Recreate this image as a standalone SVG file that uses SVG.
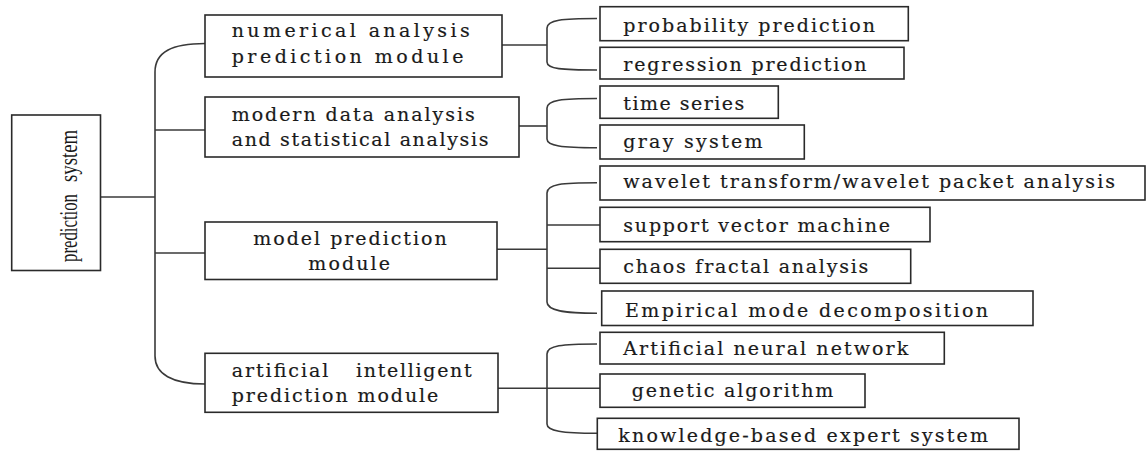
<svg xmlns="http://www.w3.org/2000/svg" width="1146" height="451" viewBox="0 0 1146 451">
<style>
  .box { fill: #ffffff; stroke: #2a2a2a; stroke-width: 1.6; }
  .lbl { font-family: "DejaVu Serif", "Liberation Serif", serif; font-size: 19px; fill: #1a1a1a; stroke: #1a1a1a; stroke-width: 0.2; }
  .root { font-family: "Liberation Serif", "DejaVu Serif", serif; font-size: 26px; fill: #1a1a1a; }
  .conn { fill: none; stroke: #3a3a3a; stroke-width: 1.6; }
</style>
<rect width="1146" height="451" fill="#ffffff"/>

<g id="connectors">
  <path class="conn" d="M100.5,197 H155"/>
  <path class="conn" d="M205,43.5 C172,43.5 155,52 155,72 V356 C155,374 172,384 205,384"/>
  <path class="conn" d="M155,130 H205"/>
  <path class="conn" d="M155,253 H205"/>

  <path class="conn" d="M502,45 H547"/>
  <path class="conn" d="M597,18.5 C562,18.5 547,20 547,28 V62 C547,69 562,70 597,70"/>

  <path class="conn" d="M519,126 H547"/>
  <path class="conn" d="M597,98.5 C562,98.5 547,100 547,108 V139 C547,146 562,147.7 597,147.7"/>

  <path class="conn" d="M497,249.3 H547"/>
  <path class="conn" d="M597,182.7 C562,182.7 547,184 547,193 V302 C547,310 562,313.3 597,313.3"/>
  <path class="conn" d="M547,225 H600"/>
  <path class="conn" d="M547,268.3 H600"/>

  <path class="conn" d="M498,388.3 H600"/>
  <path class="conn" d="M597,344 C562,344 547,345.5 547,354 V424 C547,431 562,433.3 597,433.3"/>
</g>

<g id="node-root">
  <rect class="box" x="11.7" y="115" width="88.8" height="155.5"/>
  <text class="root" transform="translate(77,262) rotate(-90)"><tspan x="0" y="0" textLength="68" lengthAdjust="spacingAndGlyphs">prediction</tspan> <tspan x="80" y="0" textLength="52" lengthAdjust="spacingAndGlyphs">system</tspan></text>
</g>

<g id="node-numerical">
  <rect class="box" x="205" y="15" width="297" height="62"/>
  <text class="lbl" x="231.7" y="37.3" textLength="238" lengthAdjust="spacing">numerical analysis</text>
  <text class="lbl" x="231.7" y="63.3" textLength="231.7" lengthAdjust="spacing">prediction module</text>
</g>

<g id="node-modern">
  <rect class="box" x="205" y="97" width="314" height="60"/>
  <text class="lbl" x="231.7" y="120.7" textLength="243" lengthAdjust="spacing">modern data analysis</text>
  <text class="lbl" x="231.7" y="145.7" textLength="256.7" lengthAdjust="spacing">and statistical analysis</text>
</g>

<g id="node-model">
  <rect class="box" x="205" y="222" width="292" height="57.5"/>
  <text class="lbl" x="253.3" y="245" textLength="193.4" lengthAdjust="spacing">model prediction</text>
  <text class="lbl" x="308.3" y="270" textLength="81.7" lengthAdjust="spacing">module</text>
</g>

<g id="node-artificial">
  <rect class="box" x="205" y="353.3" width="293" height="59"/>
  <text class="lbl" y="376.7"><tspan x="231.7" textLength="96.6" lengthAdjust="spacing">artificial</tspan> <tspan x="356" textLength="115.7" lengthAdjust="spacing">intelligent</tspan></text>
  <text class="lbl" x="231.7" y="401.7" textLength="206.6" lengthAdjust="spacing">prediction module</text>
</g>

<g id="node-probability">
  <rect class="box" x="600" y="6.7" width="308.3" height="34"/>
  <text class="lbl" x="623.3" y="31.7" textLength="251.7" lengthAdjust="spacing">probability prediction</text>
</g>

<g id="node-regression">
  <rect class="box" x="600" y="47.3" width="304" height="31.7"/>
  <text class="lbl" x="623.3" y="71" textLength="243.3" lengthAdjust="spacing">regression prediction</text>
</g>

<g id="node-timeseries">
  <rect class="box" x="600" y="86" width="178.3" height="32.3"/>
  <text class="lbl" x="623.3" y="110" textLength="121" lengthAdjust="spacing">time series</text>
</g>

<g id="node-gray">
  <rect class="box" x="600" y="125" width="204.3" height="34"/>
  <text class="lbl" x="623.3" y="148.3" textLength="139.3" lengthAdjust="spacing">gray system</text>
</g>

<g id="node-wavelet">
  <rect class="box" x="600" y="166" width="545" height="34"/>
  <text class="lbl" x="623.3" y="188.3" textLength="491.7" lengthAdjust="spacing">wavelet transform/wavelet packet analysis</text>
</g>

<g id="node-svm">
  <rect class="box" x="600" y="207.3" width="330" height="34.4"/>
  <text class="lbl" x="623.3" y="231.7" textLength="266.7" lengthAdjust="spacing">support vector machine</text>
</g>

<g id="node-chaos">
  <rect class="box" x="600" y="249.3" width="310.7" height="34"/>
  <text class="lbl" x="623.3" y="273.3" textLength="245" lengthAdjust="spacing">chaos fractal analysis</text>
</g>

<g id="node-emd">
  <rect class="box" x="601.7" y="291" width="431.3" height="34.5"/>
  <text class="lbl" x="625" y="316.7" textLength="363" lengthAdjust="spacing">Empirical mode decomposition</text>
</g>

<g id="node-ann">
  <rect class="box" x="600" y="332.3" width="344.3" height="31.7"/>
  <text class="lbl" x="623.3" y="355" textLength="285" lengthAdjust="spacing">Artificial neural network</text>
</g>

<g id="node-genetic">
  <rect class="box" x="600" y="374" width="265" height="33.3"/>
  <text class="lbl" x="631.7" y="397.3" textLength="201.6" lengthAdjust="spacing">genetic algorithm</text>
</g>

<g id="node-knowledge">
  <rect class="box" x="597.3" y="418.3" width="421.7" height="31"/>
  <text class="lbl" x="618.3" y="441.7" textLength="369.7" lengthAdjust="spacing">knowledge-based expert system</text>
</g>
</svg>
